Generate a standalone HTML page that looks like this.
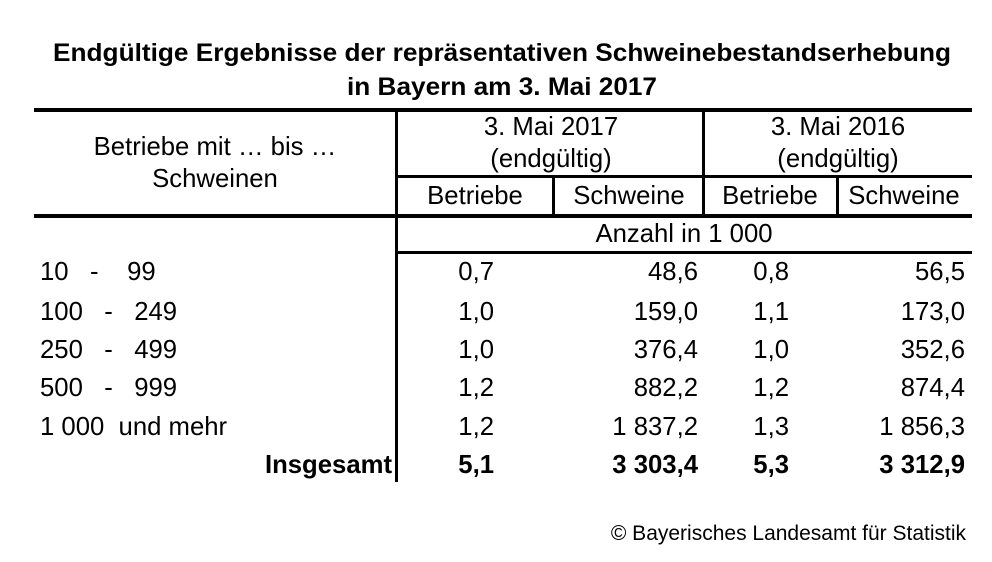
<!DOCTYPE html>
<html><head><meta charset="utf-8"><style>
html,body{margin:0;padding:0;background:#fff;}
svg{display:block;}
text{font-family:"Liberation Sans",Arial,sans-serif;fill:#000;white-space:pre;}
</style></head><body>
<svg width="992" height="562" viewBox="0 0 992 562" xmlns="http://www.w3.org/2000/svg">
<g font-weight="bold" font-size="25" text-anchor="middle">
<text x="502" y="61" textLength="898" lengthAdjust="spacingAndGlyphs">Endgültige Ergebnisse der repräsentativen Schweinebestandserhebung</text>
<text x="502" y="95" textLength="310" lengthAdjust="spacingAndGlyphs">in Bayern am 3. Mai 2017</text>
</g>
<rect x="34" y="108" width="938" height="4"/>
<rect x="34" y="214" width="938" height="4"/>
<rect x="395" y="108" width="3" height="374"/>
<rect x="396" y="175" width="576" height="3"/>
<rect x="396" y="251" width="576" height="3"/>
<rect x="702" y="108" width="3" height="110"/>
<rect x="552" y="175" width="3" height="43"/>
<rect x="836" y="175" width="3" height="43"/>
<g font-size="25.7" text-anchor="middle">
<text x="215" y="155">Betriebe mit … bis …</text>
<text x="215" y="187">Schweinen</text>
<text x="551" y="135">3. Mai 2017</text>
<text x="551" y="167">(endgültig)</text>
<text x="838" y="135">3. Mai 2016</text>
<text x="838" y="167">(endgültig)</text>
<text x="475" y="204">Betriebe</text>
<text x="629" y="204">Schweine</text>
<text x="770" y="204">Betriebe</text>
<text x="904" y="204">Schweine</text>
<text x="684" y="242">Anzahl in 1 000</text>
</g>
<g font-size="25.7">
<text x="40" y="280">10   -    99</text>
<text x="40" y="320">100   -   249</text>
<text x="40" y="358">250   -   499</text>
<text x="40" y="396">500   -   999</text>
<text x="40" y="435">1 000  und mehr</text>
</g>
<g font-size="25.7" text-anchor="end">
<text x="494" y="280">0,7</text><text x="698" y="280">48,6</text><text x="789" y="280">0,8</text><text x="965" y="280">56,5</text>
<text x="494" y="320">1,0</text><text x="698" y="320">159,0</text><text x="789" y="320">1,1</text><text x="965" y="320">173,0</text>
<text x="494" y="358">1,0</text><text x="698" y="358">376,4</text><text x="789" y="358">1,0</text><text x="965" y="358">352,6</text>
<text x="494" y="396">1,2</text><text x="698" y="396">882,2</text><text x="789" y="396">1,2</text><text x="965" y="396">874,4</text>
<text x="494" y="435">1,2</text><text x="698" y="435">1 837,2</text><text x="789" y="435">1,3</text><text x="965" y="435">1 856,3</text>
</g>
<g font-size="25.7" font-weight="bold" text-anchor="end">
<text x="392" y="473">Insgesamt</text>
<text x="494" y="473">5,1</text><text x="698" y="473">3 303,4</text><text x="789" y="473">5,3</text><text x="965" y="473">3 312,9</text>
</g>
<text x="966" y="540" font-size="21" text-anchor="end">© Bayerisches Landesamt für Statistik</text>
</svg>
</body></html>
